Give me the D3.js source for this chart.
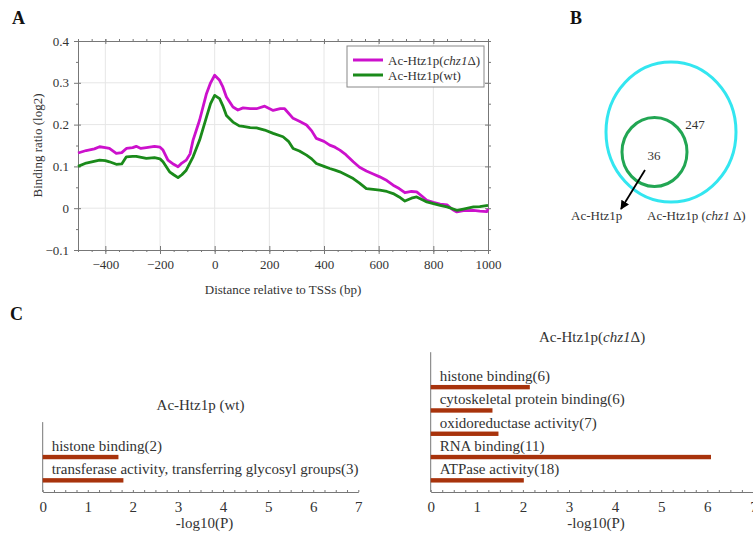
<!DOCTYPE html>
<html>
<head>
<meta charset="utf-8">
<script src="https://cdn.jsdelivr.net/npm/d3@7"></script>
<style>
  body { margin: 0; background: #fff; }
  svg text { font-family: "Liberation Serif", "DejaVu Serif", "Times New Roman", serif !important; fill: #333; }
</style>
</head>
<body>
<div id="chart"></div>
<script>
// Panel A: binding profile around TSSs
const chzPos = [-500,-470,-440,-421,-400,-385,-360,-340,-323,-300,-287,-270,-250,-220,-200,-189,-171,-150,-134,-120,-104,-90,-79,-55,-30,-15,0,18,30,43,67,85,104,130,153,183,214,240,256,287,310,336,355,372,400,421,440,458,480,507,530,555,580,604,630,653,675,696,720,739,760,776,800,825,850,870,886,910,947,970,996,1000];
const chzVals = [0.132,0.138,0.142,0.147,0.145,0.143,0.131,0.133,0.143,0.145,0.148,0.143,0.145,0.148,0.146,0.139,0.115,0.105,0.099,0.108,0.115,0.13,0.163,0.211,0.274,0.30,0.318,0.306,0.29,0.266,0.242,0.235,0.240,0.238,0.238,0.244,0.234,0.238,0.238,0.215,0.208,0.199,0.185,0.167,0.160,0.151,0.146,0.139,0.128,0.111,0.098,0.089,0.082,0.075,0.066,0.055,0.047,0.037,0.040,0.039,0.028,0.019,0.014,0.010,0.008,-0.003,-0.009,-0.006,-0.005,-0.007,-0.008,-0.002];
const wtPos = [-500,-470,-421,-400,-385,-360,-340,-323,-300,-287,-250,-220,-200,-189,-165,-150,-134,-120,-104,-79,-55,-30,-15,0,18,30,43,67,90,104,130,153,183,214,250,270,287,310,336,355,372,400,421,440,458,480,507,530,555,580,604,630,653,675,696,720,739,760,776,800,825,850,886,910,947,970,1000];
const wtVals = [0.100,0.108,0.115,0.114,0.111,0.105,0.106,0.123,0.124,0.124,0.119,0.121,0.118,0.111,0.087,0.080,0.073,0.080,0.091,0.123,0.163,0.218,0.25,0.270,0.262,0.245,0.222,0.206,0.197,0.196,0.193,0.192,0.187,0.179,0.171,0.160,0.143,0.137,0.127,0.118,0.107,0.100,0.095,0.091,0.087,0.080,0.071,0.060,0.047,0.045,0.043,0.040,0.035,0.027,0.017,0.024,0.027,0.020,0.015,0.011,0.007,0.003,-0.005,-0.002,0.003,0.004,0.007];
const xTicksA = [-400,-200,0,200,400,600,800,1000];
const yTicksA = [-0.1,0,0.1,0.2,0.3,0.4];

// Panel B: overlap counts
const vennCounts = [36, 247];

// Panel C: GO enrichment
const wtTerms = ["histone binding(2)", "transferase activity, transferring glycosyl groups(3)"];
const wtP = [1.68, 1.79];
const chzTerms = ["histone binding(6)", "cytoskeletal protein binding(6)", "oxidoreductase activity(7)", "RNA binding(11)", "ATPase activity(18)"];
const chzP = [2.15, 1.34, 1.47, 6.08, 2.02];
const pTicks = [0,1,2,3,4,5,6,7];

const magenta = "#cc11cc";
const green = "#1a8a1a";
const barColor = "#a8330c";
const axisColor = "#777";
const serif = "'Liberation Serif', 'DejaVu Serif', 'Times New Roman', serif";

const svg = d3.select("#chart").append("svg")
  .attr("width", 753).attr("height", 536)
  .style("font-family", serif);
svg.append("rect").attr("width", 753).attr("height", 536).attr("fill", "#fff");

// panel letters
[["A", 12, 24], ["B", 570, 24], ["C", 10, 320]].forEach(([t, x, y]) => {
  svg.append("text").attr("x", x).attr("y", y).text(t)
    .style("font-size", "18px").style("font-weight", "bold").style("fill", "#111");
});

// ---------- Panel A ----------
const xA = d3.scaleLinear().domain([-500, 1000]).range([78, 488]);
const yA = d3.scaleLinear().domain([-0.1, 0.4]).range([250, 41]);

const gA = svg.append("g");

// grid
gA.append("g").selectAll("line").data(xTicksA.slice(0, -1)).join("line")
  .attr("x1", d => xA(d)).attr("x2", d => xA(d))
  .attr("y1", yA(0.4)).attr("y2", yA(-0.1))
  .attr("stroke", "#e6e6e6");
gA.append("g").selectAll("line").data(yTicksA.slice(1, -1)).join("line")
  .attr("x1", xA(-500)).attr("x2", xA(1000))
  .attr("y1", d => yA(d)).attr("y2", d => yA(d))
  .attr("stroke", "#e6e6e6");

const xMinor = d3.range(-450, 1000, 50);
const yMinor = d3.range(-0.05, 0.4, 0.1);

function styleAxis(sel) {
  sel.attr("font-family", null);
  sel.select(".domain").attr("stroke", axisColor);
  sel.selectAll("line").attr("stroke", axisColor);
  sel.selectAll("text").style("font-size", "13px").style("fill", "#333").style("font-family", serif);
}

// bottom
gA.append("g").attr("transform", `translate(0,${yA(-0.1)})`)
  .call(d3.axisBottom(xA).tickValues(xTicksA).tickSizeInner(4).tickSizeOuter(0).tickPadding(6).tickFormat(d3.format("d")))
  .call(styleAxis);
gA.append("g").attr("transform", `translate(0,${yA(-0.1)})`)
  .call(d3.axisBottom(xA).tickValues(xTicksA).tickSize(-4).tickFormat(""))
  .call(styleAxis);
gA.append("g").attr("transform", `translate(0,${yA(-0.1)})`)
  .call(d3.axisBottom(xA).tickValues(xMinor).tickSize(2).tickFormat(""))
  .call(styleAxis);
// top
gA.append("g").attr("transform", `translate(0,${yA(0.4)})`)
  .call(d3.axisTop(xA).tickValues(xTicksA.concat(xMinor)).tickSize(2).tickFormat(""))
  .call(styleAxis);
gA.append("g").attr("transform", `translate(0,${yA(0.4)})`)
  .call(d3.axisTop(xA).tickValues(xTicksA).tickSize(-3).tickFormat(""))
  .call(styleAxis);
// left
gA.append("g").attr("transform", `translate(${xA(-500)},0)`)
  .call(d3.axisLeft(yA).tickValues(yTicksA).tickSizeInner(4).tickSizeOuter(0).tickPadding(5)
    .tickFormat(d => d === 0 ? "0" : d3.format(".1f")(d)))
  .call(styleAxis);
gA.append("g").attr("transform", `translate(${xA(-500)},0)`)
  .call(d3.axisLeft(yA).tickValues(yMinor).tickSize(2).tickFormat(""))
  .call(styleAxis);
gA.append("g").attr("transform", `translate(${xA(-500)},0)`)
  .call(d3.axisLeft(yA).tickValues(yTicksA).tickSize(-3).tickFormat(""))
  .call(styleAxis);
// right
gA.append("g").attr("transform", `translate(${xA(1000)},0)`)
  .call(d3.axisRight(yA).tickValues(yTicksA.concat(yMinor)).tickSize(3).tickFormat(""))
  .call(styleAxis);
gA.append("g").attr("transform", `translate(${xA(1000)},0)`)
  .call(d3.axisRight(yA).tickValues(yTicksA).tickSize(-3).tickFormat(""))
  .call(styleAxis);

const lineA = d3.line().x(d => xA(d[0])).y(d => yA(d[1]));
gA.append("path").datum(d3.zip(chzPos, chzVals))
  .attr("d", lineA).attr("fill", "none").attr("stroke", magenta)
  .attr("stroke-width", 2.8).attr("stroke-linejoin", "round");
gA.append("path").datum(d3.zip(wtPos, wtVals))
  .attr("d", lineA).attr("fill", "none").attr("stroke", green)
  .attr("stroke-width", 2.8).attr("stroke-linejoin", "round");

gA.append("text")
  .attr("x", (xA(-500) + xA(1000)) / 2).attr("y", 294)
  .attr("text-anchor", "middle").style("font-size", "13px")
  .text("Distance relative to TSSs (bp)");
gA.append("text")
  .attr("transform", `translate(42,${(yA(0.4) + yA(-0.1)) / 2}) rotate(-90)`)
  .attr("text-anchor", "middle").style("font-size", "13px")
  .text("Binding ratio (log2)");

// legend
const leg = gA.append("g").attr("transform", "translate(347,46)");
leg.append("rect").attr("width", 137).attr("height", 41)
  .attr("fill", "#fff").attr("stroke", "#888");
const legItems = [
  { color: magenta, parts: [["Ac-Htz1p(", false], ["chz1", true], ["\u0394)", false]] },
  { color: green, parts: [["Ac-Htz1p(wt)", false]] }
];
legItems.forEach((it, i) => {
  const yy = 14 + i * 15;
  leg.append("line").attr("x1", 6).attr("x2", 36).attr("y1", yy).attr("y2", yy)
    .attr("stroke", it.color).attr("stroke-width", 3);
  const t = leg.append("text").attr("x", 41).attr("y", yy + 4.5).style("font-size", "13px");
  it.parts.forEach(p => t.append("tspan").text(p[0]).style("font-style", p[1] ? "italic" : "normal"));
});

// ---------- Panel B ----------
const gB = svg.append("g");
gB.append("ellipse").attr("cx", 671).attr("cy", 132).attr("rx", 65).attr("ry", 70)
  .attr("fill", "none").attr("stroke", "#33e6f0").attr("stroke-width", 3);
gB.append("ellipse").attr("cx", 654.5).attr("cy", 152).attr("rx", 32.5).attr("ry", 34.5)
  .attr("fill", "none").attr("stroke", "#22a653").attr("stroke-width", 3);
gB.append("text").attr("x", 654).attr("y", 160).attr("text-anchor", "middle")
  .style("font-size", "13px").text(vennCounts[0]);
gB.append("text").attr("x", 695).attr("y", 129).attr("text-anchor", "middle")
  .style("font-size", "13px").text(vennCounts[1]);
svg.append("defs").append("marker").attr("id", "arr")
  .attr("viewBox", "0 0 10 10").attr("refX", 9).attr("refY", 5)
  .attr("markerWidth", 5).attr("markerHeight", 5).attr("orient", "auto")
  .append("path").attr("d", "M0,0L10,5L0,10z").attr("fill", "#000");
gB.append("line").attr("x1", 645).attr("y1", 170).attr("x2", 621).attr("y2", 209)
  .attr("stroke", "#000").attr("stroke-width", 1.8).attr("marker-end", "url(#arr)");
gB.append("text").attr("x", 571).attr("y", 220).style("font-size", "13px").text("Ac-Htz1p");
const tb = gB.append("text").attr("x", 647).attr("y", 220).style("font-size", "13px");
tb.append("tspan").text("Ac-Htz1p (");
tb.append("tspan").text("chz1").style("font-style", "italic");
tb.append("tspan").text(" \u0394)");

// ---------- Panel C ----------
function barPanel(terms, vals, xRange, titleParts, titleY) {
  const x = d3.scaleLinear().domain([0, 7]).range(xRange);
  const rowH = 23.3;
  const bottom = 492;
  const y = d3.scaleLinear().domain([-1.5, terms.length - 0.5])
    .range([bottom - rowH * (terms.length + 1), bottom]);
  const g = svg.append("g");

  g.append("g").attr("transform", `translate(0,${bottom})`)
    .call(d3.axisBottom(x).tickValues(pTicks).tickSize(0).tickPadding(9).tickFormat(d3.format("d")))
    .call(s => {
      s.attr("font-family", null);
      s.select(".domain").attr("stroke", axisColor);
      s.selectAll("text").style("font-size", "15px").style("fill", "#333").style("font-family", serif);
    });
  g.append("g").attr("transform", `translate(0,${bottom})`)
    .call(d3.axisTop(x).tickValues(d3.range(0, 7.01, 0.25)).tickSize(2).tickSizeOuter(0).tickFormat(""))
    .call(s => {
      s.select(".domain").remove();
      s.selectAll("line").attr("stroke", axisColor);
    });
  g.append("line").attr("x1", x(0)).attr("x2", x(0))
    .attr("y1", y(-1.5)).attr("y2", bottom).attr("stroke", axisColor);

  g.selectAll(".bar").data(vals).join("rect").attr("class", "bar")
    .attr("x", x(0)).attr("y", (d, i) => y(i) - 2.2)
    .attr("width", d => x(d) - x(0)).attr("height", 4.4)
    .attr("fill", barColor);
  g.selectAll(".lbl").data(terms).join("text").attr("class", "lbl")
    .attr("x", x(0) + 9).attr("y", (d, i) => y(i) - 6)
    .style("font-size", "15px").text(d => d);

  const t = g.append("text").attr("x", (xRange[0] + xRange[1]) / 2).attr("y", titleY)
    .attr("text-anchor", "middle").style("font-size", "15px");
  titleParts.forEach(p => t.append("tspan").text(p[0]).style("font-style", p[1] ? "italic" : "normal"));
  g.append("text").attr("x", (xRange[0] + xRange[1]) / 2 + 4).attr("y", bottom + 36)
    .attr("text-anchor", "middle").style("font-size", "15px").text("-log10(P)");
}

barPanel(wtTerms, wtP, [42.7, 358.3], [["Ac-Htz1p (wt)", false]], 410);
barPanel(chzTerms, chzP, [430.7, 753.4], [["Ac-Htz1p(", false], ["chz1", true], ["\u0394)", false]], 342);
</script>
</body>
</html>
